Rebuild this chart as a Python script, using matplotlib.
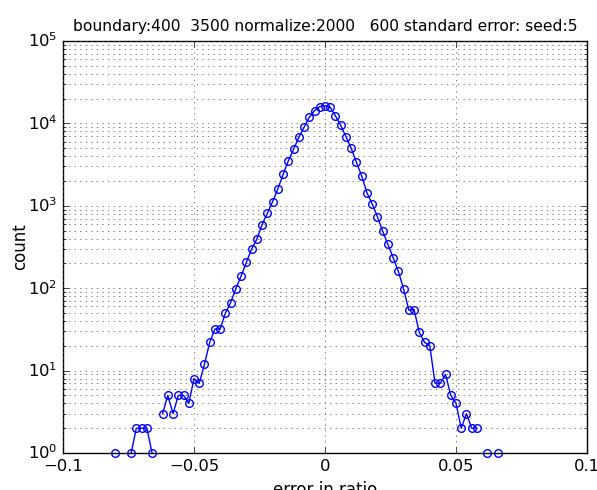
#!/usr/bin/env python
# -*- coding: utf-8 -*-

import numpy as np
import matplotlib
matplotlib.use("Agg")
import matplotlib.pyplot as plt
from matplotlib import ticker

# histogram of errors, bins of width 0.002 starting at -0.080
bin_start = -0.080
bin_width = 0.002
counts = [
    1, 0, 0, 1, 2, 2, 2, 1, 0, 3,
    5, 3, 5, 5, 4, 8, 7, 12, 22, 32,
    32, 50, 67, 99, 141, 206, 299, 395, 590, 811,
    1122, 1600, 2400, 3510, 4850, 6780, 8970, 11860, 14260, 15950,
    16400,
    15680, 12300, 9480, 6900, 4990, 3370, 2300, 1443, 1052, 738,
    494, 340, 235, 160, 98, 54, 55, 29, 22, 20,
    7, 7, 9, 5, 4, 2, 3, 2, 2, 0,
    1, 0, 1,
]
title_text = "boundary:400  3500 normalize:2000   600 standard error: seed:5"
x_label = "error in ratio"
y_label = "count"


def fmt_x(v, pos):
    s = "%g" % round(v, 6)
    if s == "-0":
        s = "0"
    return s.replace("-", "\u2212")


def draw():
    x = bin_start + bin_width * np.arange(len(counts))
    y = np.array(counts, dtype=float)

    plt.style.use("classic")
    fig = plt.figure(figsize=(5.97, 4.9), dpi=100, facecolor="white")
    ax = fig.add_axes([63 / 597, 37 / 490, 524 / 597, 412 / 490])
    ax.plot(x, y, color="b", marker="o", mfc="none", mec="b", ms=5.5,
            mew=1, lw=1, clip_on=False)
    ax.set_yscale("log", nonpositive="mask")
    ax.set_xlim(-0.1, 0.1)
    ax.set_ylim(1, 1e5)
    ax.xaxis.set_major_locator(ticker.MultipleLocator(0.05))
    ax.xaxis.set_major_formatter(ticker.FuncFormatter(fmt_x))
    # light dotted grid, minor lines only on the log axis
    ax.grid(True, which="major", axis="x", color="0.3", linestyle=":", lw=0.5)
    ax.grid(True, which="both", axis="y", color="0.3", linestyle=":", lw=0.5)
    ax.tick_params(labelsize=11.8)
    ax.set_xlabel(x_label, fontsize=12)
    ax.set_ylabel(y_label, fontsize=12, labelpad=-1)
    ax.set_title(title_text, fontsize=11.2, pad=7)
    fig.savefig("out.png", dpi=100, facecolor="white")


if __name__ == "__main__":
    draw()
